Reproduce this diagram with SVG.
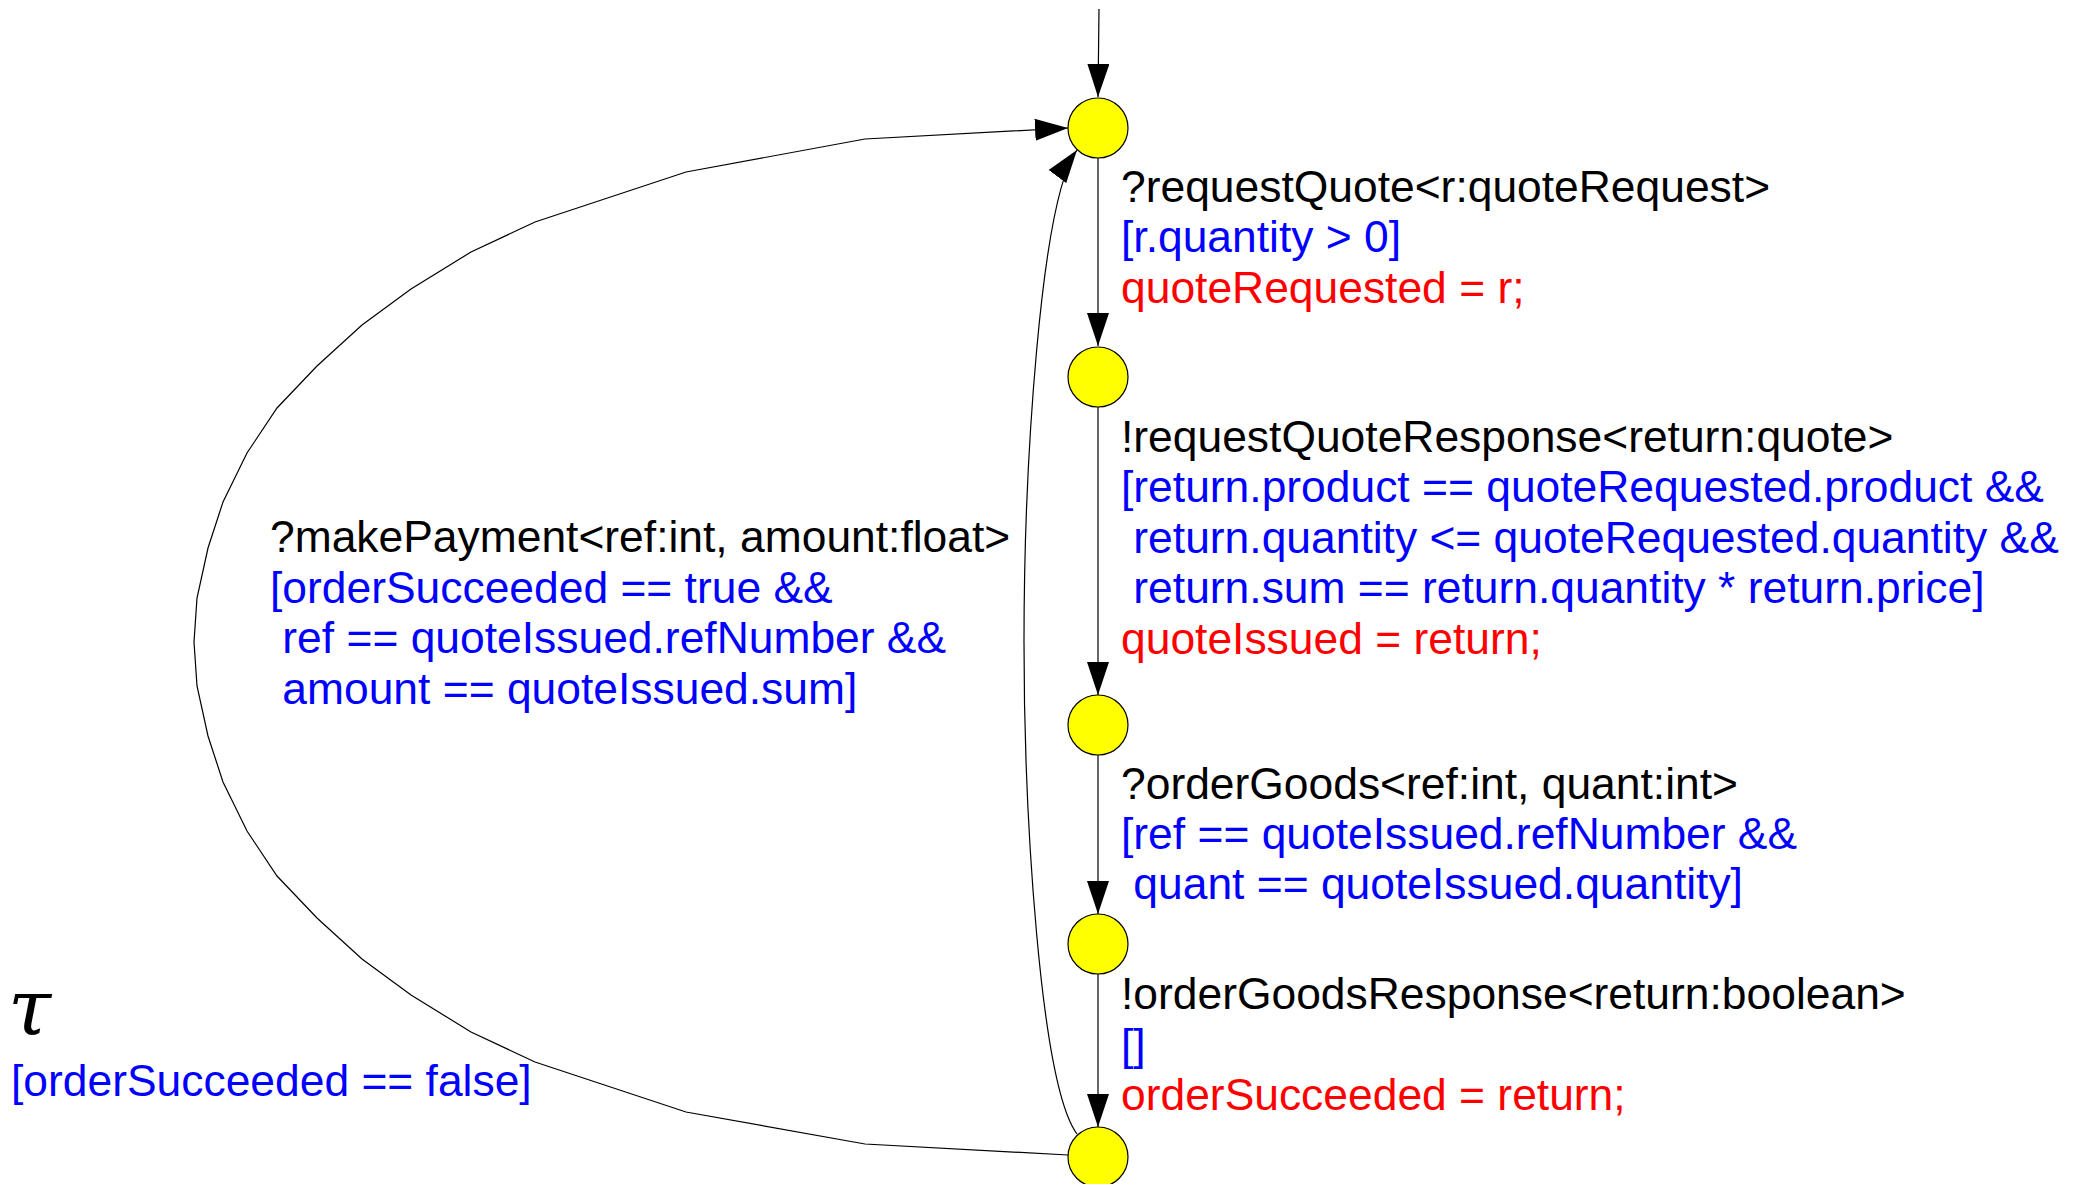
<svg xmlns="http://www.w3.org/2000/svg" width="2075" height="1184" viewBox="0 0 2075 1184">
<style>
.st{fill:#FFFF00;stroke:#000;stroke-width:1.2}
.e{fill:none;stroke:#000;stroke-width:1.2}
text{font-family:"Liberation Sans",Arial,sans-serif;font-size:44.4px;white-space:pre}
.k{fill:#000}.b{fill:#0000FF}.r{fill:#FF0000}
.tau{font-family:"DejaVu Serif","Liberation Serif",serif;font-style:italic;font-size:78px}
</style>
<defs>
<marker id="ah" markerUnits="userSpaceOnUse" markerWidth="34" markerHeight="22" refX="33" refY="11" orient="auto">
<path d="M0,0 L33,11 L0,22 z" fill="#000"/>
</marker>
</defs>
<rect width="2075" height="1184" fill="#fff"/>
<g id="connectors">
<path class="e" d="M1099,9 L1098,97" marker-end="url(#ah)"/>
<path class="e" d="M1098,158 L1098,346" marker-end="url(#ah)"/>
<path class="e" d="M1098,407 L1098,695" marker-end="url(#ah)"/>
<path class="e" d="M1098,755 L1098,914" marker-end="url(#ah)"/>
<path class="e" d="M1098,974 L1098,1127" marker-end="url(#ah)"/>
<path class="e" d="M1068,1155 L865,1144 L686,1112 L535,1062 L471,1032 L411,995 L362,959 L317,918 L277,876 L247,831 L223,782 L208,736 L197,686 L194,642 L197,598 L208,548 L223,502 L247,453 L277,408 L317,366 L362,325 L411,289 L471,252 L535,222 L686,172 L865,139 L1068,128" marker-end="url(#ah)"/>
<path class="e" d="M1077,1134 C1040,1084 1024,814 1024,642 C1024,470 1040,200 1077,150" marker-end="url(#ah)"/>
</g>
<g id="n1"><circle class="st" cx="1098" cy="128" r="30"/></g>
<g id="n2"><circle class="st" cx="1098" cy="377" r="30"/></g>
<g id="n3"><circle class="st" cx="1098" cy="725" r="30"/></g>
<g id="n4"><circle class="st" cx="1098" cy="944" r="30"/></g>
<g id="n5"><circle class="st" cx="1098" cy="1157" r="30"/></g>
<g id="labels">
<text class="k" x="1121" y="202">?requestQuote&lt;r:quoteRequest&gt;</text>
<text class="b" x="1121" y="252">[r.quantity &gt; 0]</text>
<text class="r" x="1121" y="303">quoteRequested = r;</text>
<text class="k" x="1121" y="452">!requestQuoteResponse&lt;return:quote&gt;</text>
<text class="b" x="1121" y="502">[return.product == quoteRequested.product &amp;&amp;</text>
<text class="b" x="1121" y="553" xml:space="preserve"> return.quantity &lt;= quoteRequested.quantity &amp;&amp;</text>
<text class="b" x="1121" y="603" xml:space="preserve"> return.sum == return.quantity * return.price]</text>
<text class="r" x="1121" y="654">quoteIssued = return;</text>
<text class="k" x="1121" y="799">?orderGoods&lt;ref:int, quant:int&gt;</text>
<text class="b" x="1121" y="849">[ref == quoteIssued.refNumber &amp;&amp;</text>
<text class="b" x="1121" y="899" xml:space="preserve"> quant == quoteIssued.quantity]</text>
<text class="k" x="1121" y="1009">!orderGoodsResponse&lt;return:boolean&gt;</text>
<text class="b" x="1121" y="1060">[]</text>
<text class="r" x="1121" y="1110">orderSucceeded = return;</text>
<text class="k" x="270" y="552">?makePayment&lt;ref:int, amount:float&gt;</text>
<text class="b" x="270" y="603">[orderSucceeded == true &amp;&amp;</text>
<text class="b" x="270" y="653" xml:space="preserve"> ref == quoteIssued.refNumber &amp;&amp;</text>
<text class="b" x="270" y="704" xml:space="preserve"> amount == quoteIssued.sum]</text>
<text class="tau" x="8" y="1035">τ</text>
<text class="b" x="11" y="1096">[orderSucceeded == false]</text>
</g>
</svg>
